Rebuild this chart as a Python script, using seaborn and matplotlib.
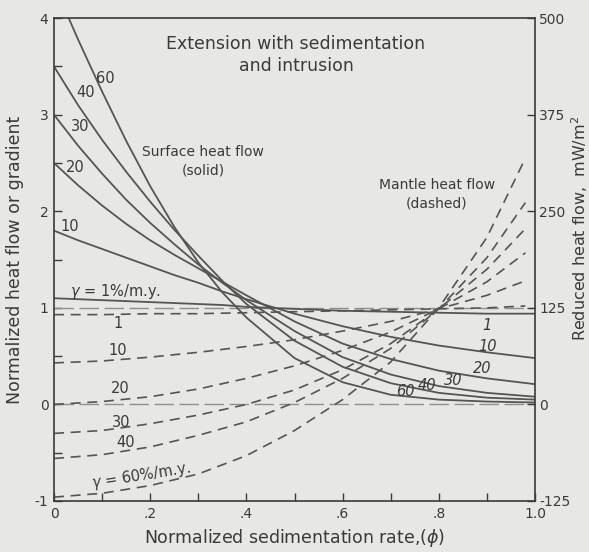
import matplotlib.pyplot as plt
import numpy as np
import pandas as pd
import seaborn as sns

# -------------------------------------------------------
# values
gammas = [1, 10, 20, 30, 40, 60]

# surface heat flow (solid)
x_surface = [0, .05, .1, .15, .2, .25, .3, .35, .4, .5, .6, .7, .8, .9, 1.0]
surf_1 = [1.10, 1.09, 1.08, 1.07, 1.06, 1.05, 1.04, 1.03, 1.01, 0.99, 0.97, 0.96, 0.95, 0.94, 0.94]
surf_10 = [1.80, 1.70, 1.61, 1.52, 1.43, 1.34, 1.26, 1.17, 1.09, 0.94, 0.81, 0.70, 0.61, 0.54, 0.48]
surf_20 = [2.50, 2.27, 2.06, 1.87, 1.70, 1.55, 1.41, 1.27, 1.13, 0.86, 0.63, 0.47, 0.35, 0.27, 0.21]
surf_30 = [3.00, 2.68, 2.39, 2.12, 1.88, 1.66, 1.45, 1.26, 1.08, 0.76, 0.49, 0.31, 0.19, 0.12, 0.08]
surf_40 = [3.50, 3.10, 2.74, 2.41, 2.10, 1.81, 1.54, 1.28, 1.04, 0.66, 0.39, 0.22, 0.12, 0.07, 0.05]
surf_60 = [4.35, 3.78, 3.24, 2.73, 2.26, 1.84, 1.47, 1.16, 0.90, 0.48, 0.23, 0.10, 0.05, 0.03, 0.02]

# mantle heat flow (dashed)
x_mantle = [0, .1, .2, .3, .4, .5, .6, .7, .8, .9, .98]
mant_1 = [0.93, 0.93, 0.94, 0.94, 0.95, 0.96, 0.97, 0.98, 0.99, 1.00, 1.02]
mant_10 = [0.43, 0.45, 0.49, 0.54, 0.60, 0.67, 0.76, 0.86, 0.99, 1.13, 1.28]
mant_20 = [0.00, 0.03, 0.08, 0.16, 0.27, 0.40, 0.56, 0.75, 0.99, 1.27, 1.57]
mant_30 = [-0.30, -0.27, -0.20, -0.11, 0.00, 0.15, 0.36, 0.63, 0.99, 1.40, 1.82]
mant_40 = [-0.56, -0.52, -0.44, -0.32, -0.18, 0.02, 0.27, 0.58, 0.99, 1.52, 2.09]
mant_60 = [-0.96, -0.92, -0.84, -0.72, -0.53, -0.27, 0.05, 0.44, 1.00, 1.73, 2.55]

x_tick_labels = ['0', '', '.2', '', '.4', '', '.6', '', '.8', '', '1.0']
right_ticks = [-125, 0, 125, 250, 375, 500]

surface = pd.DataFrame({'x': x_surface * 6,
                        'y': surf_1 + surf_10 + surf_20 + surf_30 + surf_40 + surf_60,
                        'gamma': np.repeat(gammas, len(x_surface))})
mantle = pd.DataFrame({'x': x_mantle * 6,
                       'y': mant_1 + mant_10 + mant_20 + mant_30 + mant_40 + mant_60,
                       'gamma': np.repeat(gammas, len(x_mantle))})

# -------------------------------------------------------
sns.set_style('ticks')
plt.rcParams['font.family'] = ['DejaVu Sans']
bg = '#e7e7e4'
ink = '#3a3a3a'
line_c = '#555555'

fig = plt.figure(figsize=(5.89, 5.52), dpi=100, facecolor=bg)
ax = fig.add_axes([0.0917, 0.0924, 0.8166, 0.8746], facecolor=bg)

# reference lines at 0 and 1
for yy in [0, 1]:
    ax.axhline(yy, color='#8f8f8f', linewidth=1.0, dashes=(14, 4), zorder=1)

sns.lineplot(data=surface, x='x', y='y', units='gamma', estimator=None, color=line_c,
             linewidth=1.3, ax=ax, legend=False)
for g in gammas:
    sub = mantle[mantle['gamma'] == g]
    sns.lineplot(x=sub['x'], y=sub['y'], color=line_c, linewidth=1.2, ax=ax)
    ax.lines[-1].set_dashes((6, 4))

ax.set_xlim(0, 1.0)
ax.set_ylim(-1, 4)
ax.set_xticks(np.arange(0, 1.01, 0.1))
ax.set_xticklabels(x_tick_labels)
ax.set_yticks([-1, 0, 1, 2, 3, 4])
ax.set_yticklabels(['-1', '0', '1', '2', '3', '4'])
ax.set_yticks(np.arange(-0.5, 4, 1.0), minor=True)
ax.tick_params(direction='in', length=6, width=1, colors=ink, labelsize=10, pad=4)
ax.tick_params(which='minor', direction='in', length=6, width=1, colors=ink)
for s in ax.spines.values():
    s.set_color(ink)
    s.set_linewidth(1.2)
ax.set_xlabel('Normalized sedimentation rate,($\\phi$)', fontsize=12.5, color=ink, labelpad=5)
ax.set_ylabel('Normalized heat flow or gradient', fontsize=12.5, color=ink, labelpad=8)

# right axis
ax2 = ax.twinx()
ax2.set_ylim(-125, 500)
ax2.set_yticks(right_ticks)
ax2.set_yticklabels([str(t) for t in right_ticks])
ax2.tick_params(direction='in', length=6, width=1, colors=ink, labelsize=10, pad=3)
for s in ax2.spines.values():
    s.set_visible(False)
ax2.set_ylabel('Reduced heat flow,  mW/m$^2$', fontsize=11.5, color=ink,
               ha='center', va='center')
ax2.yaxis.set_label_coords(1.092, 0.565)

# annotations
ax.text(0.503, 3.62, 'Extension with sedimentation\nand intrusion', ha='center', va='center',
        fontsize=12.5, color=ink, linespacing=1.3)
ax.text(0.31, 2.52, 'Surface heat flow\n(solid)', ha='center', va='center', fontsize=10,
        color=ink, linespacing=1.4)
ax.text(0.796, 2.18, 'Mantle heat flow\n(dashed)', ha='center', va='center', fontsize=10,
        color=ink, linespacing=1.4)

# solid curve labels
for (tx, ty, t) in [(0.106, 3.38, '60'), (0.066, 3.23, '40'), (0.054, 2.88, '30'),
                    (0.044, 2.45, '20'), (0.033, 1.84, '10')]:
    ax.text(tx, ty, t, ha='center', va='center', fontsize=10.5, color=ink)
for (tx, ty, t) in [(0.90, 0.82, '1'), (0.902, 0.60, '10'), (0.89, 0.37, '20'),
                    (0.83, 0.25, '30'), (0.775, 0.20, '40'), (0.73, 0.13, '60')]:
    ax.text(tx, ty, t, ha='center', va='center', fontsize=10.5, color=ink, style='italic')

# dashed curve labels
ax.text(0.128, 1.17, '$\\gamma$ = 1%/m.y.', ha='center', va='center', fontsize=10.5, color=ink)
for (tx, ty, t) in [(0.133, 0.84, '1'), (0.133, 0.56, '10'), (0.137, 0.17, '20'),
                    (0.14, -0.19, '30'), (0.148, -0.39, '40')]:
    ax.text(tx, ty, t, ha='center', va='center', fontsize=10.5, color=ink)
ax.text(0.18, -0.74, '$\\gamma$ = 60%/m.y.', ha='center', va='center', fontsize=10.5,
        color=ink, rotation=9)

fig.savefig('out.png', dpi=100, facecolor=bg)
